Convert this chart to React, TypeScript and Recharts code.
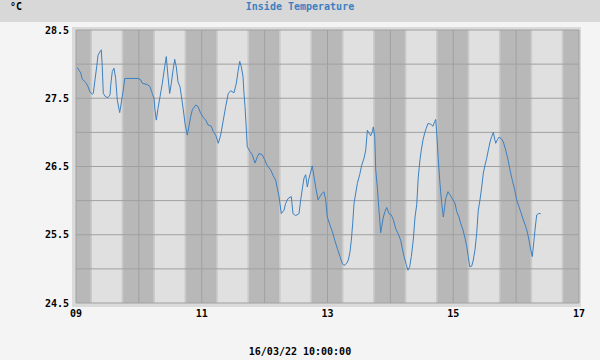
import React from "react";
import {
  Line,
  LineChart,
  ReferenceArea,
  ReferenceLine,
  XAxis,
  YAxis,
} from "recharts";

// time in days of March 2022, temperature in °C
const times = [
  9.021, 9.075, 9.1, 9.154, 9.191, 9.223, 9.259, 9.275, 9.302, 9.329, 9.35, 9.393,
  9.402, 9.418, 9.434, 9.472, 9.509, 9.541, 9.552, 9.577, 9.604, 9.631, 9.657, 9.695,
  9.72, 9.752, 9.775, 9.986, 10.029, 10.054, 10.134, 10.177, 10.214, 10.241, 10.256,
  10.277, 10.304, 10.336, 10.373, 10.411, 10.436, 10.463, 10.49, 10.516, 10.543, 10.57,
  10.595, 10.622, 10.654, 10.681, 10.707, 10.734, 10.77, 10.824, 10.85, 10.904, 10.94,
  10.983, 11.025, 11.063, 11.099, 11.152, 11.184, 11.222, 11.263, 11.301, 11.343,
  11.381, 11.422, 11.46, 11.513, 11.55, 11.577, 11.604, 11.629, 11.656, 11.672, 11.688,
  11.704, 11.724, 11.767, 11.804, 11.847, 11.884, 11.911, 11.963, 12.001, 12.043,
  12.097, 12.138, 12.176, 12.202, 12.229, 12.265, 12.308, 12.335, 12.372, 12.424,
  12.451, 12.494, 12.547, 12.574, 12.599, 12.626, 12.653, 12.679, 12.706, 12.733,
  12.758, 12.785, 12.812, 12.849, 12.881, 12.917, 12.944, 12.971, 12.997, 13.04,
  13.076, 13.115, 13.156, 13.199, 13.235, 13.262, 13.305, 13.331, 13.358, 13.379,
  13.401, 13.422, 13.449, 13.474, 13.512, 13.544, 13.581, 13.608, 13.634, 13.66,
  13.687, 13.713, 13.729, 13.751, 13.767, 13.792, 13.819, 13.846, 13.862, 13.888,
  13.915, 13.942, 13.978, 14.015, 14.047, 14.085, 14.121, 14.164, 14.19, 14.217,
  14.253, 14.28, 14.307, 14.333, 14.364, 14.392, 14.419, 14.444, 14.471, 14.492,
  14.519, 14.546, 14.571, 14.598, 14.641, 14.678, 14.705, 14.721, 14.737, 14.762,
  14.789, 14.816, 14.842, 14.864, 14.88, 14.917, 14.959, 14.996, 15.028, 15.055,
  15.091, 15.118, 15.155, 15.187, 15.214, 15.239, 15.262, 15.293, 15.319, 15.346,
  15.373, 15.398, 15.425, 15.453, 15.478, 15.505, 15.532, 15.558, 15.585, 15.612,
  15.637, 15.66, 15.675, 15.701, 15.728, 15.764, 15.796, 15.834, 15.871, 15.903,
  15.939, 15.977, 16.009, 16.046, 16.082, 16.114, 16.152, 16.178, 16.205, 16.232,
  16.257, 16.284, 16.3, 16.327, 16.353, 16.391,
];

const temps = [
  27.95, 27.87, 27.78, 27.73, 27.67, 27.59, 27.56, 27.57, 27.77, 27.96, 28.13, 28.2,
  28.21, 27.96, 27.57, 27.52, 27.51, 27.55, 27.69, 27.89, 27.94, 27.79, 27.47, 27.29,
  27.43, 27.62, 27.79, 27.79, 27.77, 27.72, 27.7, 27.67, 27.57, 27.5, 27.33,
  27.18, 27.35, 27.52, 27.72, 27.96, 28.11, 27.82, 27.57, 27.72, 27.91, 28.07,
  27.96, 27.74, 27.67, 27.5, 27.33, 27.13, 26.96, 27.23, 27.33, 27.4, 27.38,
  27.28, 27.22, 27.18, 27.11, 27.09, 27.01, 26.96, 26.84, 26.96, 27.18,
  27.38, 27.57, 27.61, 27.58, 27.72, 27.89, 28.04, 27.96, 27.82, 27.57, 27.38,
  27.13, 26.79, 26.72, 26.67, 26.55, 26.64, 26.69, 26.67, 26.6, 26.51,
  26.45, 26.36, 26.3, 26.18, 26.06, 25.81, 25.86, 25.96, 26.03, 26.06,
  25.81, 25.78, 25.81, 26.01, 26.17, 26.33, 26.38, 26.2, 26.33, 26.42,
  26.51, 26.35, 26.2, 26.01, 26.06, 26.11, 26.13, 26.01, 25.76, 25.64,
  25.55, 25.42, 25.3, 25.18, 25.08, 25.05, 25.08, 25.13, 25.25, 25.42,
  25.67, 25.96, 26.11, 26.25, 26.38, 26.52, 26.62, 26.74, 27.03, 26.99,
  26.95, 27.01, 27.08, 26.94, 26.45, 26.2, 25.86, 25.53, 25.62, 25.76,
  25.84, 25.9, 25.81, 25.79, 25.72, 25.59, 25.52, 25.42, 25.3, 25.18,
  25.06, 24.98, 25.03, 25.18, 25.42, 25.76, 25.94, 26.35, 26.6, 26.74,
  26.89, 26.99, 27.06, 27.13, 27.12, 27.09, 27.16, 27.19, 26.99, 26.6,
  26.25, 25.96, 25.76, 25.91, 26.03, 26.13, 26.07, 26.01, 25.96, 25.84,
  25.76, 25.67, 25.57, 25.45, 25.33, 25.18, 25.03, 25.04, 25.13, 25.28,
  25.52, 25.86, 26.01, 26.2, 26.4, 26.52, 26.62, 26.74, 26.86, 26.94,
  27.0, 26.9, 26.84, 26.89, 26.93, 26.91, 26.86, 26.74, 26.6, 26.45,
  26.3, 26.16, 26.01, 25.91, 25.81, 25.72, 25.62, 25.54, 25.42, 25.28,
  25.18, 25.42, 25.57, 25.79, 25.81, 25.81,
];

// night (sunset -> sunrise) and twilight edges, in days
const nightStart = [9, 9.752, 10.752, 11.752, 12.752, 13.752, 14.752, 15.752, 16.752];
const nightEnd = [9.229, 10.229, 11.229, 12.229, 13.229, 14.229, 15.229, 16.229, 17];
const TWILIGHT = 0.026;

const xTicks = [9, 10, 11, 12, 13, 14, 15, 16, 17];
const yTicks = [24.5, 25, 25.5, 26, 26.5, 27, 27.5, 28, 28.5];

const data = times.map((t, i) => ({ t, temp: temps[i] }));

const FONT = "'DejaVu Sans Mono', monospace";
const GRID = "#a0a0a0";

const fmtDay = (v: number) => (v % 2 === 1 ? String(v).padStart(2, "0") : "");
const fmtTemp = (v: number) => (v % 1 === 0.5 ? v.toFixed(1) : "");

export default function App() {
  return (
    <div
      style={{
        position: "absolute",
        left: 0,
        top: 0,
        width: 600,
        height: 360,
        background: "#f4f4f4",
        fontFamily: FONT,
        fontWeight: "bold",
        fontSize: 10,
        lineHeight: "10px",
      }}
    >
      <div style={{ position: "absolute", left: 0, top: 0, width: 600, height: 22, background: "#d8d8d8" }} />
      <div style={{ position: "absolute", left: 72, top: 27, width: 509, height: 280, background: "#dadada" }} />
      <div style={{ position: "absolute", left: 10, top: 2, color: "#000" }}>°C</div>
      <div style={{ position: "absolute", left: 0, top: 2, width: 600, textAlign: "center", color: "#3f80c0" }}>
        Inside Temperature
      </div>
      <div style={{ position: "absolute", left: 0, top: 347, width: 600, textAlign: "center", color: "#000" }}>
        16/03/22 10:00:00
      </div>
      <div style={{ position: "absolute", left: 0, top: 0 }}>
        <LineChart
          width={600}
          height={360}
          data={data}
          margin={{ top: 30, right: 21, bottom: 27, left: 20 }}
        >
          <ReferenceArea x1={9} x2={17} y1={24.5} y2={28.5} fill="#e0e0e0" fillOpacity={1} stroke="none" />
          {nightStart.map((s, i) => (
            <ReferenceArea
              key={`tw-${i}`}
              x1={Math.max(9, s - TWILIGHT)}
              x2={Math.min(17, nightEnd[i] + TWILIGHT)}
              fill="#cacaca"
              fillOpacity={1}
              stroke="none"
            />
          ))}
          {nightStart.map((s, i) => (
            <ReferenceArea
              key={`night-${i}`}
              x1={s}
              x2={nightEnd[i]}
              fill="#b8b8b8"
              fillOpacity={1}
              stroke="none"
            />
          ))}
          {yTicks.map((v) => (
            <ReferenceLine key={`gy-${v}`} y={v} stroke={GRID} strokeWidth={1} />
          ))}
          {xTicks.map((v) => (
            <ReferenceLine key={`gx-${v}`} x={v} stroke={GRID} strokeWidth={1} />
          ))}
          <XAxis
            dataKey="t"
            type="number"
            domain={[9, 17]}
            ticks={xTicks}
            tickFormatter={fmtDay}
            axisLine={false}
            tickLine={false}
            tickSize={0}
            tickMargin={7}
            height={30}
            interval={0}
            tick={{ fill: "#000", fontFamily: FONT, fontWeight: "bold", fontSize: 10 }}
          />
          <YAxis
            type="number"
            domain={[24.5, 28.5]}
            ticks={yTicks}
            tickFormatter={fmtTemp}
            axisLine={false}
            tickLine={false}
            tickSize={0}
            tickMargin={7}
            width={56}
            interval={0}
            tick={{ fill: "#000", fontFamily: FONT, fontWeight: "bold", fontSize: 10 }}
          />
          <Line
            type="linear"
            dataKey="temp"
            stroke="#3b80c2"
            strokeWidth={1}
            dot={false}
            activeDot={false}
            isAnimationActive={false}
          />
        </LineChart>
      </div>
    </div>
  );
}
